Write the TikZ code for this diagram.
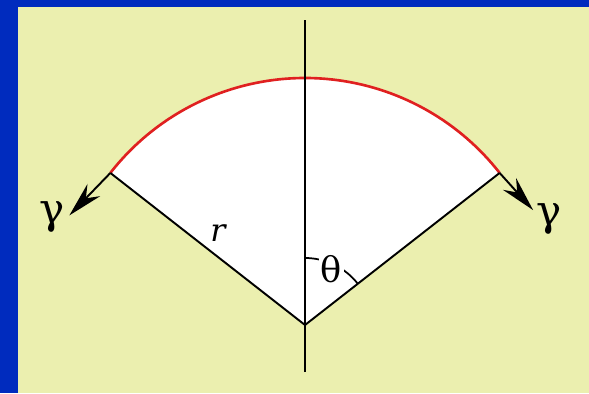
\documentclass[tikz,border=0pt]{standalone}
\usepackage{fontspec}
\setmainfont{DejaVu Serif}
\usetikzlibrary{arrows.meta, calc}
\definecolor{slideblue}{RGB}{0,43,190}
\definecolor{slideyellow}{RGB}{235,239,175}
\definecolor{arcred}{RGB}{224,32,32}
\tikzset{
  radius line/.style={draw=black,line width=1.1pt},
  arr/.style={-{Stealth[length=20pt,width=10pt]},line width=1.1pt},
  glabel/.style={font=\fontsize{24}{28}\selectfont,inner sep=0pt},
  tlabel/.style={font=\fontsize{20}{24}\selectfont,inner sep=1pt,fill=white}
}
\begin{document}
\begin{tikzpicture}[x=0.02cm,y=0.02cm]
  \fill[slideblue] (0,0) rectangle (589,393);
  \fill[slideyellow] (18,0) rectangle (589,386);
  \useasboundingbox (0,0) rectangle (589,393);

  \coordinate (O) at (305,68);
  \coordinate (A) at ($(O)+(142:247)$);
  \coordinate (B) at ($(O)+(38:247)$);
  \coordinate (top) at (305,373);
  \coordinate (bot) at (305,21);

  \fill[white] (O) -- (A) arc[start angle=142,end angle=38,radius=247] -- cycle;
  \draw[arcred,line width=1.5pt] (A) arc[start angle=142,end angle=38,radius=247];
  \draw[radius line] (A) -- (O) -- (B);
  \draw[radius line] (bot) -- (top);

  \draw[line width=1pt] ($(O)+(90:67)$) arc[start angle=90,end angle=38,radius=67];
  \node[tlabel] (theta) at ($(O)+(65:62)$) {θ};
  \node[font=\fontsize{18}{22}\selectfont\itshape] (rlab) at (218,160) {r};

  \coordinate (tl) at ($(A)+(226:59)$);
  \coordinate (tr) at ($(B)+(-48:50)$);
  \node[glabel] (gl) at (52,176) {γ};
  \node[glabel] (gr) at (549,174) {γ};
  \foreach \s/\t in {A/tl,B/tr}
    \draw[arr] (\s) -- (\t);
\end{tikzpicture}
\end{document}
